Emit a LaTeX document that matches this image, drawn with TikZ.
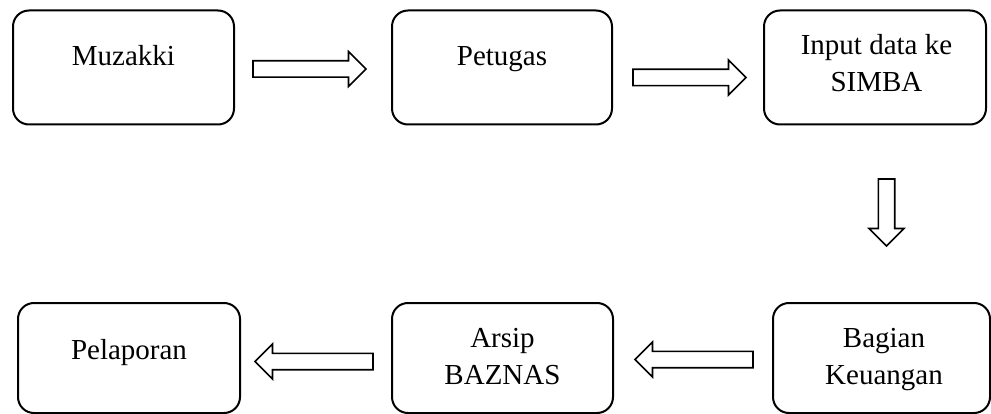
\documentclass[tikz,border=0pt]{standalone}
\usepackage{fontspec}
\setmainfont{Liberation Serif}
\usetikzlibrary{calc}

\tikzset{
  kotak/.style={draw, line width=2pt, rounded corners=16pt, minimum width=221pt, minimum height=114pt, inner sep=0pt},
  teks/.style={align=center, inner sep=0pt, anchor=base},
  panah/.style={draw, line width=1.6pt, line join=miter, fill=white}
}

% panah blok dari #1 (ekor) ke #2 (ujung)
\newcommand{\panahblok}[2]{%
  \coordinate (pb-h) at ($(#2)!17.5pt!(#1)$);
  \draw[panah] ($(#1)!8.2pt!90:(#2)$) -- ($(pb-h)!8.2pt!90:(#2)$) -- ($(pb-h)!17.5pt!90:(#2)$)
    -- (#2) -- ($(pb-h)!17.5pt!-90:(#2)$) -- ($(pb-h)!8.2pt!-90:(#2)$) -- ($(#1)!8.2pt!-90:(#2)$) -- cycle;
}

\begin{document}
\begin{tikzpicture}[x=1pt, y=-1pt, font=\fontsize{29}{37}\selectfont]  % satuan piksel, sumbu y ke bawah
                \clip (0,0) rectangle (991,414);

                % baris atas
                \node[kotak] (muzakki) at (123.5,67.5) {};
                \node[kotak, minimum width=220pt] (petugas) at (502,67.5) {};
                \node[kotak, minimum width=222pt] (simba) at (875,67.5) {};

                % baris bawah
                \node[kotak, minimum height=110pt, minimum width=217pt] (keuangan) at (881.5,358) {};
                \node[kotak, minimum height=110pt] (arsip) at (502.5,358) {};
                \node[kotak, minimum height=110pt, minimum width=222pt] (pelaporan) at (129,358) {};

                % teks di dalam kotak (base = baris terakhir)
                \node[teks] (t-muzakki) at ($(muzakki.north)+(0,56)$) {Muzakki};
                \node[teks] (t-petugas) at ($(petugas.north)+(0,56)$) {Petugas};
                \node[teks] (t-simba) at ($(simba.north)+(1.5,82.5)$) {Input data ke\\SIMBA};
                \node[teks] (t-keuangan) at ($(keuangan.north)+(2.5,82)$) {Bagian\\Keuangan};
                \node[teks] (t-arsip) at ($(arsip.north)+(0,82)$) {Arsip\\BAZNAS};
                \node[teks] (t-pelaporan) at ($(pelaporan.north)+(0,57)$) {Pelaporan};

                % ujung-ujung panah blok
                \coordinate (a1) at ($(muzakki.east)+(18,1.5)$);
                \coordinate (b1) at ($(petugas.west)+(-25,1.5)$);
                \coordinate (a2) at ($(petugas.east)+(20,10)$);
                \coordinate (b2) at ($(simba.west)+(-17,10)$);
                \coordinate (a3) at ($(simba.south)+(11.5,53.5)$);
                \coordinate (b3) at ($(keuangan.north)+(5,-56)$);
                \coordinate (a4) at ($(keuangan.west)+(-19,1.5)$);
                \coordinate (b4) at ($(arsip.east)+(21,1.5)$);
                \coordinate (a5) at ($(arsip.west)+(-18,3.5)$);
                \coordinate (b5) at ($(pelaporan.east)+(14,3.5)$);

                % panah blok antar kotak
                \panahblok{a1}{b1}
                \panahblok{a2}{b2}
                \panahblok{a3}{b3}
                \panahblok{a4}{b4}
                \panahblok{a5}{b5}
\end{tikzpicture}
\end{document}
